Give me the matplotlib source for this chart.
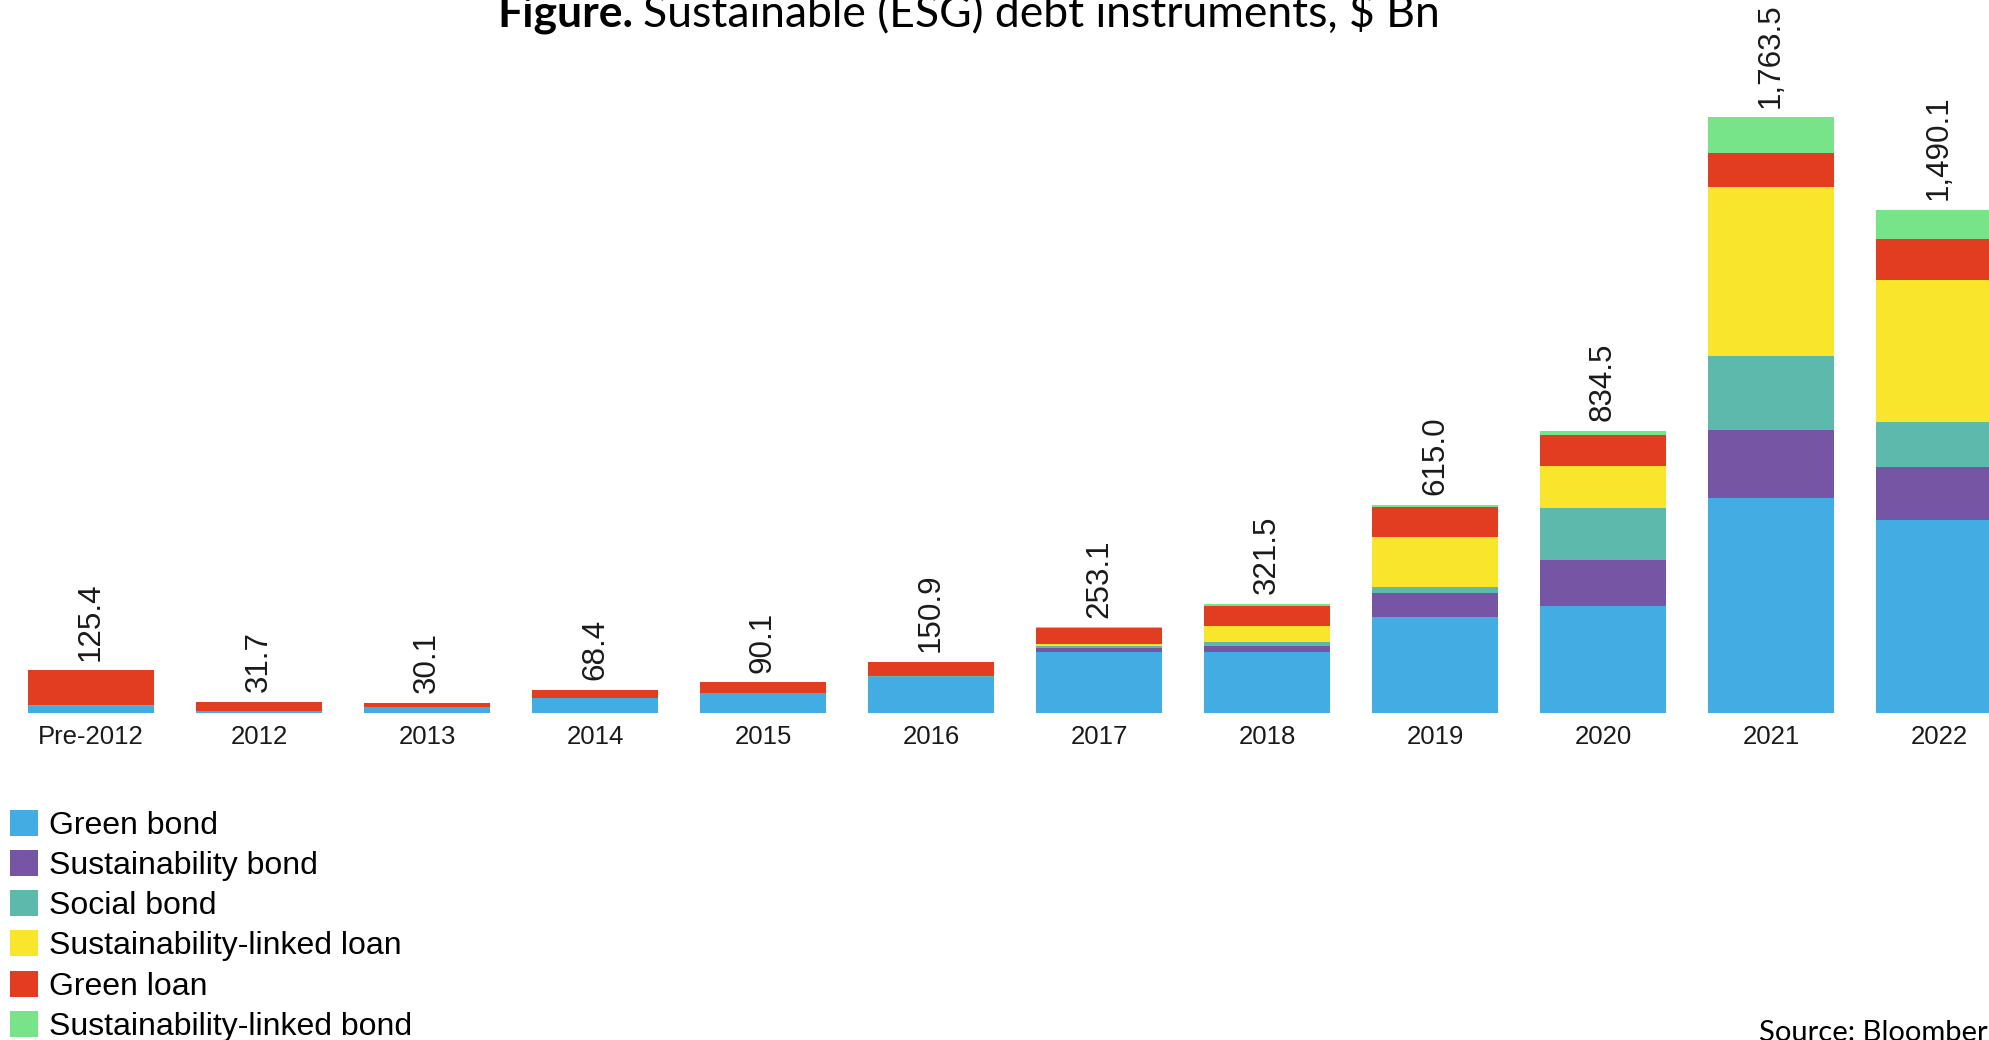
import matplotlib
matplotlib.use('Agg')
import matplotlib.pyplot as plt
from matplotlib.patches import Patch
import numpy as np

categories = ['Pre-2012', '2012', '2013', '2014', '2015', '2016',
              '2017', '2018', '2019', '2020', '2021', '2022']
green_bond = [20.5, 4.5, 16.0, 44.5, 58.0, 107.0, 180.5, 180.0, 284.0, 317.5, 636.0, 570.0]
sustainability_bond = [0, 0, 0, 0, 0, 0, 12.6, 18.0, 70.0, 136.0, 201.0, 159.0]
social_bond = [0.9, 0.5, 0.3, 0.5, 0.5, 1.0, 5.0, 11.0, 18.0, 153.0, 219.0, 131.0]
sl_loan = [0, 0, 0, 0, 0, 0, 5.5, 48.0, 149.0, 123.0, 501.0, 423.0]
green_loan = [104.0, 26.7, 13.8, 23.4, 31.6, 42.9, 48.0, 58.0, 89.0, 94.0, 101.0, 119.0]
sl_bond = [0, 0, 0, 0, 0, 0, 1.5, 6.5, 5.0, 11.0, 105.5, 88.1]

series = [
    ('Green bond', green_bond, '#42ACE3'),
    ('Sustainability bond', sustainability_bond, '#7656A4'),
    ('Social bond', social_bond, '#5CB9AC'),
    ('Sustainability-linked loan', sl_loan, '#FAE52D'),
    ('Green loan', green_loan, '#E23C21'),
    ('Sustainability-linked bond', sl_bond, '#77E48A'),
]

W, H = 1990, 1040
fig = plt.figure(figsize=(W / 100, H / 100), dpi=100)
base_px = 712.7
ax = fig.add_axes([0, (H - base_px) / H, 1, base_px / H])

x = np.arange(len(categories))
bottom = np.zeros(len(categories))
for name, vals, col in series:
    vals = np.array(vals)
    ax.bar(x, vals, 0.75, bottom=bottom, color=col, label=name, linewidth=0)
    bottom += vals

# totals above the stacks
for xi, tot in zip(x, bottom):
    ax.annotate(f'{tot:,.1f}', (xi, tot), xytext=(0, 7), textcoords='offset points',
                rotation=90, ha='center', va='bottom', fontsize=22.6,
                family='Liberation Sans', color='#1a1a1a', annotation_clip=False)

ax.set_xlim(-91 / 168, (W - 91) / 168)
ax.set_ylim(0, base_px / 0.3376)
ax.set_xticks(x)
ax.set_xticklabels(categories, fontsize=18.5, family='Liberation Sans', color='#1a1a1a')
ax.tick_params(axis='x', length=0, pad=9)
ax.set_yticks([])
for s in ax.spines.values():
    s.set_visible(False)
ax.patch.set_alpha(0)

handles = [Patch(facecolor=c, edgecolor='none', label=n) for n, _, c in series]
fig.legend(handles=handles, loc='upper left', bbox_to_anchor=(10 / W, 1 - 810 / H),
           frameon=False, prop={'family': 'Liberation Sans', 'size': 23},
           handlelength=0.875, handleheight=0.875, handletextpad=0.35,
           labelspacing=0.285, borderpad=0, borderaxespad=0)

# title: bold "Figure." followed by regular text
t1 = fig.text(497 / W, 1 - 26 / H, 'Figure.', fontsize=32, fontweight='bold',
              family='Lato', va='baseline', ha='left')
fig.canvas.draw()
r = fig.canvas.get_renderer()
bb = t1.get_window_extent(r)
fig.text((bb.x1 + 10) / W, 1 - 26 / H, 'Sustainable (ESG) debt instruments, $ Bn',
         fontsize=32, family='Lato', va='baseline', ha='left')

fig.text(1759 / W, 1 - 1041 / H, 'Source: Bloomberg', fontsize=21, family='Lato',
         va='baseline', ha='left')

fig.savefig('out.png', dpi=100)
